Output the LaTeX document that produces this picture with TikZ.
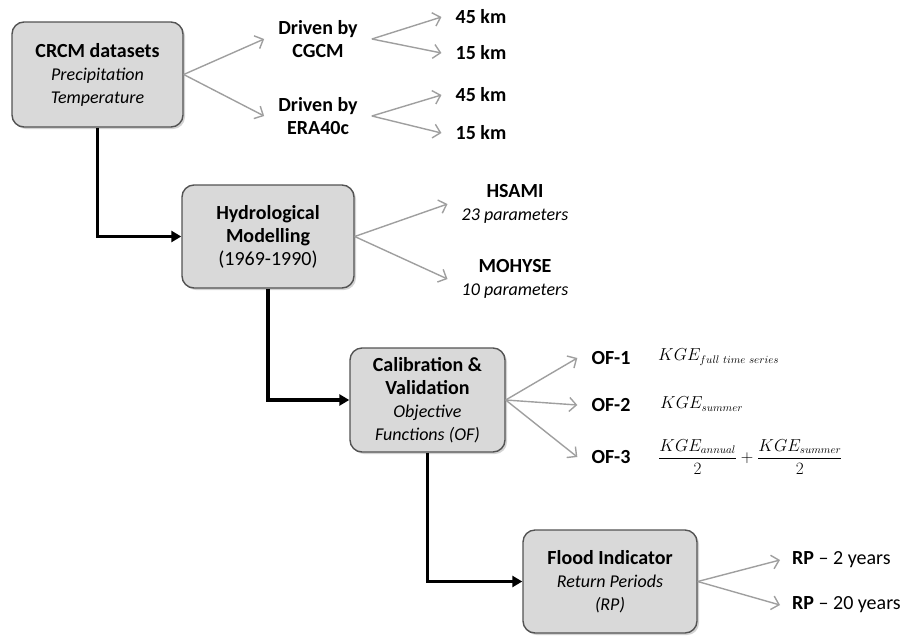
\documentclass[tikz,border=0pt]{standalone}
\usepackage{amsmath}
\usepackage{fontspec}
\setmainfont{Carlito}
\usetikzlibrary{arrows.meta}
\usetikzlibrary{shadows}

\tikzset{
  stage/.style={draw=gray!65!black, line width=1.4pt, fill=gray!30, rounded corners=12pt,
    align=center, inner sep=0pt, font=\fontsize{20}{23}\selectfont,
    drop shadow={shadow xshift=2pt, shadow yshift=-2pt, opacity=0.35}},
  item/.style={align=center, inner xsep=14pt, inner ysep=2pt, font=\fontsize{20}{23}\selectfont\bfseries},
  formula/.style={anchor=west, inner sep=0pt, font=\fontsize{16}{19}\selectfont},
  branch/.style={-{Straight Barb[length=7pt,width=14pt]}, line width=1.4pt, draw=gray!75},
  flow/.style={-{Triangle[length=10pt,width=11pt]}, line width=3.2pt, black},
}
\newcommand{\sub}[1]{{\mdseries\itshape\fontsize{18}{23}\selectfont #1}}

\begin{document}
\begin{tikzpicture}[x=1pt, y=-1pt]
    \useasboundingbox (0,0) rectangle (909,635);

    % Stages
    \node[stage, minimum width=171pt, minimum height=105pt] (crcm) at (97.5,74.5)
        {\textbf{CRCM datasets}\\ \sub{Precipitation}\\ \sub{Temperature}};
    \node[stage, minimum width=172pt, minimum height=103pt] (hydro) at (268,236.5)
        {\textbf{Hydrological}\\ \textbf{Modelling}\\ (1969-1990)};
    \node[stage, minimum width=155pt, minimum height=104pt] (calib) at (427.5,400)
        {\textbf{Calibration \&}\\ \textbf{Validation}\\ \sub{Objective}\\ \sub{Functions (OF)}};
    \node[stage, minimum width=174pt, minimum height=103pt] (flood) at (610,581.5)
        {\textbf{Flood Indicator}\\ \sub{Return Periods}\\ \sub{(RP)}};

    % Datasets
    \node[item] (cgcm) at (318,39) {Driven by\\CGCM};
    \node[item] (era) at (318,116) {Driven by\\ERA40c};
    \node[item] (c45) at (481,17) {45 km};
    \node[item] (c15) at (481,53) {15 km};
    \node[item] (e45) at (481,95) {45 km};
    \node[item] (e15) at (481,133) {15 km};

    % Models
    \node[item] (hsami) at (515,204) {HSAMI\\ \sub{23 parameters}};
    \node[item] (mohyse) at (515,279) {MOHYSE\\ \sub{10 parameters}};

    % Objective functions
    \node[item] (of1) at (611,358) {OF-1};
    \node[item] (of2) at (611,405) {OF-2};
    \node[item] (of3) at (611,457) {OF-3};
    \node[formula] (kge1) at (658,357) {$KGE_{full\ time\ series}$};
    \node[formula] (kge2) at (660,404) {$KGE_{summer}$};
    \node[formula] (kge3) at (658,457) {$\dfrac{KGE_{annual}}{2}+\dfrac{KGE_{summer}}{2}$};

    % Return periods
    \node[item, anchor=west, inner xsep=12pt] (rp2) at (780,560) {RP {\mdseries -- 2 years}};
    \node[item, anchor=west, inner xsep=12pt] (rp20) at (780,605) {RP {\mdseries -- 20 years}};

    % Grey branches
    \draw[branch] (crcm.east) -- (cgcm.west);
    \draw[branch] (crcm.east) -- (era.west);
    \draw[branch] (cgcm.east) -- (c45.west);
    \draw[branch] (cgcm.east) -- (c15.west);
    \draw[branch] (era.east) -- (e45.west);
    \draw[branch] (era.east) -- (e15.west);
    \draw[branch] (hydro.east) -- (hsami.west);
    \draw[branch] (hydro.east) -- (mohyse.west);
    \draw[branch] (calib.east) -- (of1.west);
    \draw[branch] (calib.east) -- (of2.west);
    \draw[branch] (calib.east) -- (of3.west);
    \draw[branch] (flood.east) -- (rp2.west);
    \draw[branch] (flood.east) -- (rp20.west);

    % Main flow
    \draw[flow] (crcm.south) |- (hydro.west);
    \draw[flow] (hydro.south) |- (calib.west);
    \draw[flow] (calib.south) |- (flood.west);
\end{tikzpicture}
\end{document}
